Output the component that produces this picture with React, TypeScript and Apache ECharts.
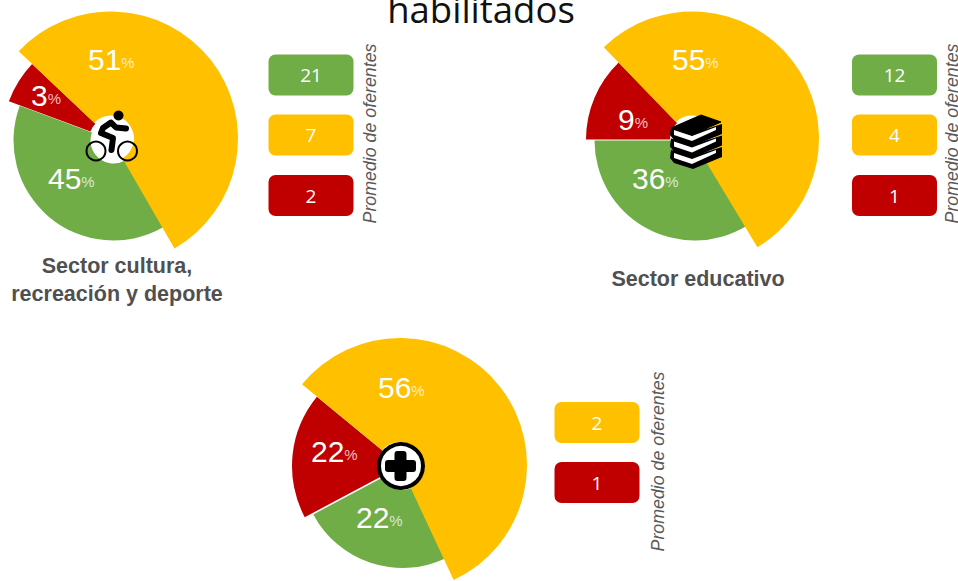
import React, { useEffect, useRef } from "react";
import * as echarts from "echarts";

const GREEN = "#70AD47";
const YELLOW = "#FFC000";
const RED = "#C00000";
const GRAY = "#595959";

const titleText = "habilitados";
const boxCaption = "Promedio de oferentes";

// Percentages printed on the slices, clockwise: green, red, yellow
const culturaPercent = [45, 3, 51];
const educativoPercent = [36, 9, 55];
const saludPercent = [22, 22, 56];

// Sweep of each slice as drawn, in degrees
const culturaSweep = [140.4, 23, 196.6];
const educativoSweep = [121, 46, 193];
const saludSweep = [87, 67.5, 205.5];

// Promedio de oferentes
const culturaOferentes = [21, 7, 2];
const educativoOferentes = [12, 4, 1];
const saludOferentes = [2, 1];

const culturaName = "Sector cultura,\nrecreación y deporte";
const educativoName = "Sector educativo";

const SLICE_COLORS = [GREEN, RED, YELLOW];
const BOX_COLORS = [GREEN, YELLOW, RED];
const SLICE_SHIFT = [[1.5, 1], [0, 0], [-1, -1]];

function pieSeries(center: number[], firstAngle: number, sweeps: number[], pct: number[], radii: number[], inner: number, labelPos: number[][]) {
  let start = firstAngle;
  return sweeps.map((sweep, i) => {
    const s = {
      type: "pie",
      silent: true,
      center: [center[0] + SLICE_SHIFT[i][0], center[1] + SLICE_SHIFT[i][1]],
      radius: [inner, radii[i]],
      startAngle: 90 - start,
      clockwise: true,
      avoidLabelOverlap: false,
      z: 2,
      emphasis: { disabled: true },
      labelLine: { show: false },
      labelLayout: { x: labelPos[i][0], y: labelPos[i][1], align: "left", verticalAlign: "middle" },
      data: [
        {
          value: sweep,
          itemStyle: { color: SLICE_COLORS[i] },
          label: {
            show: true,
            position: "inside",
            formatter: `{n|${pct[i]}}{p|%}`,
            rich: {
              n: { color: "#fff", fontSize: 30, fontFamily: "Liberation Sans" },
              p: { color: "rgba(255,255,255,0.75)", fontSize: 15, fontFamily: "Liberation Sans", padding: [7, 0, 0, 0] },
            },
          },
        },
        { value: 360 - sweep, itemStyle: { color: "rgba(0,0,0,0)" }, label: { show: false } },
      ],
    };
    start += sweep;
    return s;
  });
}

function boxes(x: number, ys: number[], values: number[], colors: string[]) {
  const out: any[] = [];
  values.forEach((v, i) => {
    out.push({
      type: "rect",
      z: 10,
      silent: true,
      shape: { x, y: ys[i], width: 85, height: 41, r: 7 },
      style: { fill: colors[i] },
    });
    out.push({
      type: "text",
      z: 11,
      silent: true,
      x: x + 42.5,
      y: ys[i] + 20.5,
      style: { text: String(v), fill: "#fff", fontSize: 19, fontFamily: "Open Sans", align: "center", verticalAlign: "middle" },
    });
  });
  return out;
}

function caption(x: number, y: number) {
  return {
    type: "text",
    z: 10,
    silent: true,
    x,
    y,
    rotation: Math.PI / 2,
    style: {
      text: boxCaption,
      fill: GRAY,
      fontSize: 17.8,
      fontStyle: "italic",
      fontFamily: "Liberation Sans",
      align: "center",
      verticalAlign: "middle",
    },
  };
}

function sectorName(x: number, y: number, text: string) {
  return {
    type: "text",
    z: 10,
    silent: true,
    x,
    y,
    style: {
      text,
      fill: "#505050",
      fontSize: 21.5,
      fontWeight: "bold",
      fontFamily: "Liberation Sans",
      lineHeight: 28,
      align: "center",
      verticalAlign: "middle",
    },
  };
}

const bikeIcon = {
  type: "group",
  z: 10,
  silent: true,
  children: [
    { type: "circle", z: 11, shape: { cx: 118.5, cy: 115.5, r: 5 }, style: { fill: "#000" } },
    { type: "circle", z: 11, shape: { cx: 96, cy: 151, r: 9.5 }, style: { fill: "none", stroke: "#000", lineWidth: 2 } },
    { type: "circle", z: 11, shape: { cx: 127.5, cy: 151, r: 9.5 }, style: { fill: "none", stroke: "#000", lineWidth: 2 } },
    {
      type: "polyline",
      z: 11,
      shape: { points: [[126, 128.5], [116, 127.5], [111, 122.5], [103, 128], [101, 133], [113, 138], [111.5, 150]] },
      style: { fill: "none", stroke: "#000", lineWidth: 6, lineJoin: "round", lineCap: "round" },
    },
  ],
};

function bookLayer(dy: number) {
  return [
    {
      type: "polygon",
      z: 11,
      shape: { points: [[671, 127 + dy], [670, 135 + dy], [674, 140 + dy], [693, 146 + dy], [722, 134 + dy], [722, 124 + dy], [693, 133 + dy]] },
      style: { fill: "#000" },
    },
    {
      type: "polygon",
      z: 12,
      shape: { points: [[674, 130 + dy], [692, 136 + dy], [716, 127 + dy], [716, 130 + dy], [692, 141 + dy], [674, 135 + dy]] },
      style: { fill: "#fff" },
    },
  ];
}

const booksIcon = {
  type: "group",
  z: 10,
  silent: true,
  children: [
    ...bookLayer(23),
    ...bookLayer(11.5),
    ...bookLayer(0),
    {
      type: "polygon",
      z: 13,
      shape: { points: [[671, 128], [701, 115], [721, 122], [692, 135]] },
      style: { fill: "#000", stroke: "#000", lineWidth: 1 },
    },
  ],
};

const plusIcon = {
  type: "group",
  z: 10,
  silent: true,
  children: [
    { type: "circle", z: 11, shape: { cx: 401, cy: 466, r: 22 }, style: { fill: "#fff", stroke: "#000", lineWidth: 4 } },
    { type: "rect", z: 12, shape: { x: 385, y: 460, width: 31, height: 12, r: 3 }, style: { fill: "#000" } },
    { type: "rect", z: 12, shape: { x: 394.5, y: 451, width: 12, height: 30, r: 3 }, style: { fill: "#000" } },
  ],
};

export default function App() {
  const ref = useRef<HTMLDivElement>(null);
  useEffect(() => {
    const chart = echarts.init(ref.current!, null, { renderer: "svg" });
    chart.setOption({
      animation: false,
      backgroundColor: "#fff",
      title: {
        text: titleText,
        left: 476,
        top: -15,
        textAlign: "center",
        textStyle: { fontFamily: "Open Sans", fontSize: 36.5, fontWeight: "normal", color: "#111" },
      },
      series: [
        ...pieSeries([112, 139.5], 150, culturaSweep, culturaPercent, [100, 110, 127], 23, [[48, 178], [31, 95], [88, 59]]),
        ...pieSeries([693, 139.5], 149, educativoSweep, educativoPercent, [100, 107, 127], 23, [[632, 178], [618, 119], [672, 59]]),
        ...pieSeries([401, 466], 155, saludSweep, saludPercent, [101, 109, 127], 23, [[356, 517], [311, 451], [378, 387]]),
      ],
      graphic: {
        elements: [
          ...boxes(268.5, [54.5, 114.5, 175], culturaOferentes, BOX_COLORS),
          ...boxes(852, [54.5, 114.5, 175], educativoOferentes, BOX_COLORS),
          ...boxes(554.5, [402, 462], saludOferentes, [YELLOW, RED]),
          caption(369.5, 133.5),
          caption(951.5, 133.5),
          caption(658, 461.5),
          sectorName(117, 280, culturaName),
          sectorName(698, 279, educativoName),
          bikeIcon,
          booksIcon,
          plusIcon,
        ],
      },
    });
    return () => chart.dispose();
  }, []);
  return <div ref={ref} style={{ position: "absolute", left: 0, top: 0, width: 958, height: 581 }} />;
}
